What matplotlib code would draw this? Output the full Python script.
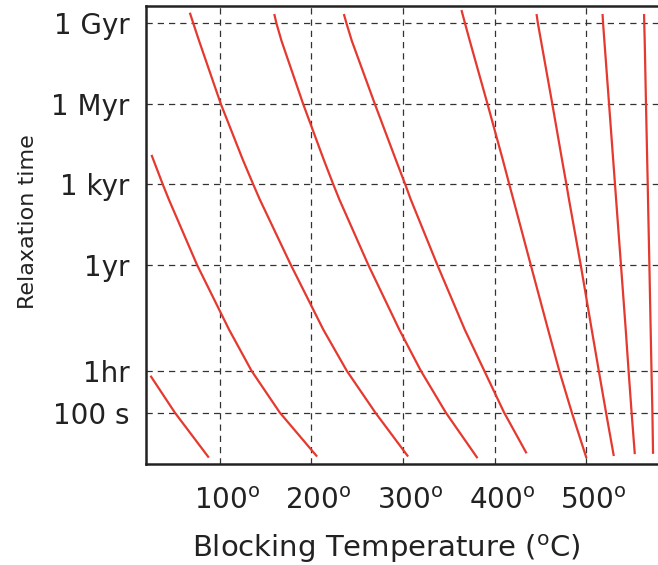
import numpy as np
import matplotlib
matplotlib.use("Agg")
import matplotlib.pyplot as plt
from matplotlib.transforms import ScaledTranslation

plt.rcParams["font.family"] = "DejaVu Sans"
plt.rcParams["mathtext.fontset"] = "dejavusans"

# blocking temperature (deg C) along each curve
temps = [
    [24.4, 50.9, 88.0],
    [25.5, 37.8, 44.4, 75.2, 110.1, 134.6, 165.4, 206.1],
    [67.3, 71.1, 77.4, 101.1, 125.1, 136.5, 143.6, 177.5, 212.9, 238.5, 269.6, 305.4],
    [159.4, 161.8, 167.3, 190.9, 213.4, 223.8, 230.4, 262.0, 295.8, 319.3, 346.5, 381.1],
    [235.3, 238.2, 244.0, 269.1, 292.0, 302.3, 308.3, 337.3, 367.2, 388.5, 410.1, 434.6],
    [363.6, 367.5, 372.7, 392.0, 408.7, 415.8, 420.2, 439.2, 458.1, 470.3, 484.0, 500.0],
    [445.5, 447.0, 450.4, 462.7, 473.3, 478.1, 480.9, 493.7, 505.7, 513.4, 521.3, 529.8],
    [517.5, 518.1, 519.5, 524.6, 529.1, 531.1, 532.3, 537.6, 542.8, 545.9, 549.2, 552.7],
    [562.8, 563.0, 563.5, 564.9, 566.2, 566.8, 567.1, 568.6, 570.0, 570.9, 571.9, 572.6],
]
# log10 of relaxation time in seconds at the same points
log_times = [
    [3.37, 2.0, 0.32],
    [11.6, 10.5, 9.94, 7.5, 5.09, 3.556, 2.0, 0.36],
    [16.9, 16.5, 15.85, 13.5, 11.42, 10.5, 9.94, 7.5, 5.09, 3.556, 2.0, 0.36],
    [16.85, 16.5, 15.85, 13.5, 11.42, 10.5, 9.94, 7.5, 5.09, 3.556, 2.0, 0.30],
    [16.85, 16.5, 15.85, 13.5, 11.42, 10.5, 9.94, 7.5, 5.09, 3.556, 2.0, 0.48],
    [17.0, 16.5, 15.85, 13.5, 11.42, 10.5, 9.94, 7.5, 5.09, 3.556, 2.0, 0.30],
    [16.85, 16.5, 15.85, 13.5, 11.42, 10.5, 9.94, 7.5, 5.09, 3.556, 2.0, 0.38],
    [16.85, 16.5, 15.85, 13.5, 11.42, 10.5, 9.94, 7.5, 5.09, 3.556, 2.0, 0.45],
    [16.85, 16.5, 15.85, 13.5, 11.42, 10.5, 9.94, 7.5, 5.09, 3.556, 2.0, 0.46],
]

ytick_vals = [3.156e16, 3.156e13, 3.156e10, 3.156e7, 3600, 100]
ytick_labels = ["1 Gyr", "1 Myr", "1 kyr", "1yr", "1hr", "100 s"]
xtick_vals = [100, 200, 300, 400, 500]
xtick_labels = [r"%d$^{\mathrm{o}}$" % v for v in xtick_vals]

fig = plt.figure(figsize=(6.58, 5.65), dpi=100)
ax = fig.add_axes([0.2226, 0.1782, 0.7774, 0.8112])

for T, lt in zip(temps, log_times):
    ax.plot(T, 10 ** np.array(lt), color="#e5392f", linewidth=1.6,
            solid_capstyle="butt", solid_joinstyle="round")

ax.set_yscale("log")
ax.set_xlim(20, 578)
ax.set_ylim(10 ** 0.07, 10 ** 17.15)
ax.minorticks_off()

ax.set_yticks(ytick_vals)
ax.set_yticklabels(ytick_labels)
ax.set_xticks(xtick_vals)
ax.set_xticklabels(xtick_labels)

ax.set_axisbelow(True)
ax.grid(True, color="#333333", linestyle=(0, (5, 4)), linewidth=0.9)

ax.spines["right"].set_visible(False)
for s in ["left", "top", "bottom"]:
    ax.spines[s].set_linewidth(1.8)
    ax.spines[s].set_color("#222222")

ax.tick_params(axis="both", length=0, labelsize=20, colors="#222222")
ax.tick_params(axis="y", pad=12)
ax.tick_params(axis="x", pad=16)
for lab in ax.get_xticklabels():
    lab.set_transform(lab.get_transform() + ScaledTranslation(5 / 72, 0, fig.dpi_scale_trans))

ax.set_xlabel(r"Blocking Temperature ($^{\mathrm{o}}$C)", fontsize=21, color="#222222")
ax.xaxis.set_label_coords(0.468, -0.148)
ax.set_ylabel("Relaxation time", fontsize=16, color="#222222")
ax.yaxis.set_label_coords(-0.212, 0.529)

fig.savefig("out.png", dpi=100)
